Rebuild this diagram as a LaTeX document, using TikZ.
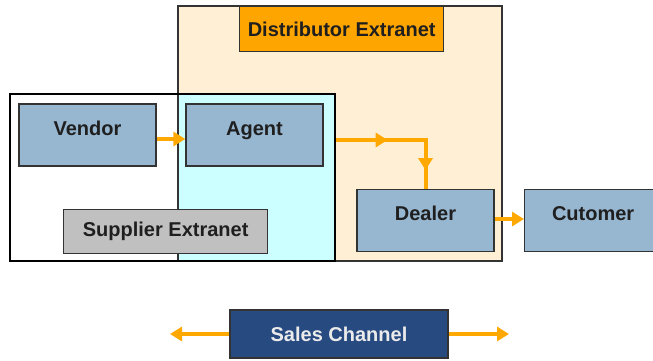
\documentclass[tikz,border=0pt]{standalone}
\usepackage{fontspec}
\setmainfont{Liberation Sans}
\usetikzlibrary{arrows.meta,decorations.markings}
\definecolor{boxblue}{HTML}{97B6D0}
\definecolor{peach}{HTML}{FFEFD5}
\definecolor{lcyan}{HTML}{CCFFFF}
\definecolor{lorange}{HTML}{FFA500}
\definecolor{arr}{HTML}{FFA800}
\definecolor{lgray}{HTML}{C0C0C0}
\definecolor{navy}{HTML}{274A80}
\definecolor{edge}{HTML}{333333}
\begin{document}
\begin{tikzpicture}[x=1pt,y=-1pt,
  txt/.style={font=\fontsize{20}{24}\selectfont\bfseries, text=black!88},
  box/.style={txt, draw=edge, line width=1.3pt, fill=boxblue, minimum width=137pt, minimum height=62pt, inner sep=0pt, text height=14pt, text depth=14pt},
  tag/.style={txt, draw=edge, line width=1.3pt, inner sep=0pt},
  flow/.style={draw=arr, line width=4pt},
  tipA/.tip={Triangle[length=12pt,width=14pt]},
  midarrows/.style={postaction={decorate}, decoration={markings,
     mark=at position 52pt with {\arrow[arr]{tipA}},
     mark=at position 120pt with {\arrow[arr]{tipA}}}}
]
\useasboundingbox (0,0) rectangle (653,360);
% Distributor extranet region
\draw[draw=edge, line width=1.3pt, fill=peach] (178,6) rectangle (502,261);
\node[tag, fill=lorange, minimum width=204pt, minimum height=45pt, anchor=north west] (dist) at (239,6) {Distributor Extranet};
% Supplier extranet region
\draw[draw=black, line width=1.3pt, fill=white] (10,94) rectangle (335,261);
\draw[draw=edge, line width=1.3pt, fill=lcyan] (178,94) rectangle (335,261);
\draw[draw=black, line width=1.3pt] (10,94) rectangle (335,261);
\node[tag, fill=lgray, minimum width=204pt, minimum height=44pt, anchor=north west] (supp) at (63,209) {Supplier Extranet};
% actors
\node[box] (vendor) at (87.5,135) {Vendor};
\node[box] (agent) at (254.5,135) {Agent};
\node[box] (dealer) at (425.5,220.5) {Dealer};
\node[box, anchor=west] (cust) at (524,220.5) {Cutomer};
\node[txt, fill=navy, draw=black!80, line width=1.3pt, text=white!92!black, minimum width=218pt, minimum height=48pt, inner sep=0pt] (sales) at (339,334) {Sales Channel};
% connectors
\draw[flow, -{tipA}] ([yshift=-4pt]vendor.east) -- ([yshift=-4pt]agent.west);
\draw[flow, midarrows] ([xshift=12pt,yshift=-5pt]agent.east) -| (dealer.north);
\draw[flow, -{tipA}] ([yshift=1.5pt]dealer.east) -- ([yshift=1.5pt]cust.west);
\coordinate (sl) at (170,334);
\coordinate (sr) at (509,334);
\draw[flow, -{tipA}] (sales.west) -- (sl);
\draw[flow, -{tipA}] (sales.east) -- (sr);
\end{tikzpicture}
\end{document}
